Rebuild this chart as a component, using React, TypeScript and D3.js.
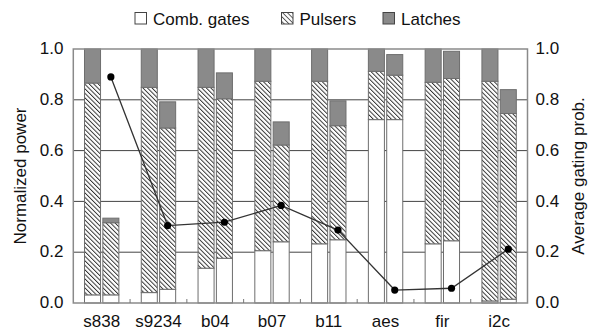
import React from "react";
import * as d3 from "d3";

const categories = ["s838", "s9234", "b04", "b07", "b11", "aes", "fir", "i2c"];
const baseComb = [0.032, 0.041, 0.137, 0.206, 0.233, 0.722, 0.233, 0.008];
const basePulsers = [0.834, 0.808, 0.712, 0.667, 0.64, 0.19, 0.636, 0.865];
const baseLatches = [0.134, 0.151, 0.151, 0.127, 0.127, 0.088, 0.131, 0.127];
const gatedComb = [0.032, 0.054, 0.176, 0.241, 0.249, 0.722, 0.245, 0.015];
const gatedPulsers = [0.284, 0.635, 0.628, 0.381, 0.449, 0.175, 0.639, 0.731];
const gatedLatches = [0.018, 0.103, 0.102, 0.091, 0.098, 0.081, 0.107, 0.094];
const gatingProb = [0.89, 0.305, 0.318, 0.384, 0.287, 0.051, 0.058, 0.212];
const yTicks = [0, 0.2, 0.4, 0.6, 0.8, 1.0];
const legendItems = ["Comb. gates", "Pulsers", "Latches"];

const W = 590, H = 333;
const L = 73.3, R = 527.5, T = 49, B = 303;
const FONT = "'Liberation Sans', Arial, Helvetica, sans-serif";
const LATCH = "#8a8a8a";

export default function App() {
  const x = d3.scaleBand().domain(categories).range([L, R]).paddingInner(0).paddingOuter(0);
  const xi = d3.scaleBand().domain(["base", "gated"]).range([0, x.bandwidth()]).paddingInner(0.126).paddingOuter(0.61);
  const y = d3.scaleLinear().domain([0, 1]).range([B, T]);
  const yr = d3.scaleLinear().domain([0, 1]).range([B, T]);

  const series = [
    { key: "base", comb: baseComb, puls: basePulsers, latch: baseLatches },
    { key: "gated", comb: gatedComb, puls: gatedPulsers, latch: gatedLatches },
  ];

  const fills = ["#ffffff", "url(#hatch)", LATCH];

  const bars: React.ReactNode[] = [];
  categories.forEach((c, i) => {
    series.forEach((s) => {
      const bx = (x(c) as number) + (xi(s.key) as number);
      const vals = [s.comb[i], s.puls[i], s.latch[i]];
      const stack = d3.stack<number[]>().keys(["0", "1", "2"] as any).value((d: any, k: any) => d[+k])([vals]);
      stack.forEach((layer, li) => {
        const [y0, y1] = layer[0];
        bars.push(
          <rect key={`${c}-${s.key}-${li}`} x={bx} width={xi.bandwidth()} y={y(y1)} height={y(y0) - y(y1)}
            fill={fills[li]} stroke="#6e6e6e" strokeWidth={1} />
        );
      });
    });
  });

  const pts = categories.map((c, i) => [
    (x(c) as number) + (xi("gated") as number) + xi.bandwidth() / 2,
    yr(gatingProb[i]),
  ] as [number, number]);
  const line = d3.line()(pts) || "";

  const legendX = [135, 281.5, 383];
  const legendFill = ["#ffffff", "url(#hatchL)", LATCH];

  return (
    <svg width={W} height={H} style={{ position: "absolute", left: 0, top: 0, background: "#fff" }} fontFamily={FONT}>
      <defs>
        <pattern id="hatch" patternUnits="userSpaceOnUse" width={3.2} height={3.2} patternTransform="rotate(-45)">
          <rect width={3.2} height={3.2} fill="#fff" />
          <line x1={0.5} y1={0} x2={0.5} y2={3.2} stroke="#222" strokeWidth={0.9} />
        </pattern>
        <pattern id="hatchL" patternUnits="userSpaceOnUse" width={3.4} height={3.4} patternTransform="rotate(-45)">
          <rect width={3.4} height={3.4} fill="#fff" />
          <line x1={0.5} y1={0} x2={0.5} y2={3.4} stroke="#333" strokeWidth={0.8} />
        </pattern>
      </defs>

      {/* gridlines */}
      {yTicks.filter((t) => t > 0 && t < 1).map((t) => (
        <line key={`g${t}`} x1={L} x2={R} y1={y(t)} y2={y(t)} stroke="#444" strokeWidth={1} />
      ))}

      {bars}

      {/* frame */}
      <rect x={L} y={T} width={R - L} height={B - T} fill="none" stroke="#8a8a8a" strokeWidth={1.5} />

      {/* x ticks between groups */}
      {categories.slice(1).map((c) => (
        <line key={`xt${c}`} x1={x(c) as number} x2={x(c) as number} y1={B} y2={B - 4} stroke="#777" strokeWidth={1} />
      ))}

      {/* line */}
      <path d={line} fill="none" stroke="#333" strokeWidth={1.3} />
      {pts.map((p, i) => (
        <circle key={`p${i}`} cx={p[0]} cy={p[1]} r={3.6} fill="#000" />
      ))}

      {/* left axis labels */}
      {yTicks.map((t) => (
        <text key={`yl${t}`} x={63.5} y={y(t)} dy="0.3em" textAnchor="end" fontSize={17} fill="#111">{t.toFixed(1)}</text>
      ))}
      {yTicks.map((t) => (
        <text key={`yr${t}`} x={535.5} y={yr(t)} dy="0.3em" textAnchor="start" fontSize={17} fill="#111">{t.toFixed(1)}</text>
      ))}

      {/* x labels */}
      {categories.map((c) => (
        <text key={`xl${c}`} x={(x(c) as number) + x.bandwidth() / 2} y={327} textAnchor="middle" fontSize={17} fill="#111">{c}</text>
      ))}

      {/* axis titles */}
      <text transform={`translate(25.5,${(T + B) / 2}) rotate(-90)`} textAnchor="middle" fontSize={17} fill="#111">Normalized power</text>
      <text transform={`translate(584,${(T + B) / 2}) rotate(-90)`} textAnchor="middle" fontSize={17} fill="#111">Average gating prob.</text>

      {/* legend */}
      {legendItems.map((name, i) => (
        <g key={name}>
          <rect x={legendX[i]} y={12.5} width={11.5} height={11.5} fill={legendFill[i]} stroke="#444" strokeWidth={1} />
          <text x={legendX[i] + 18} y={24.5} fontSize={17} fill="#111">{name}</text>
        </g>
      ))}
    </svg>
  );
}
